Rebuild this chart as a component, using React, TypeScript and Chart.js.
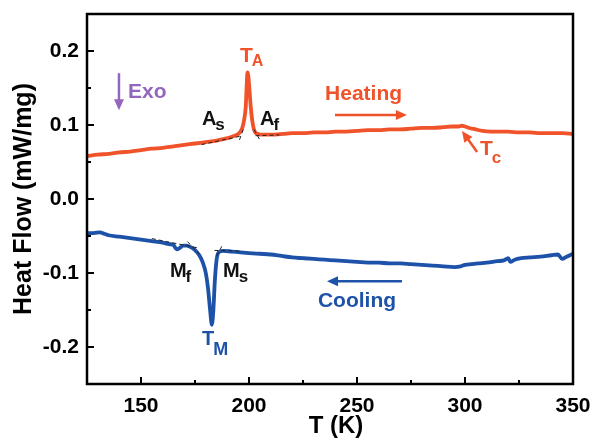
import React, { useEffect, useRef } from 'react';
import { Chart, registerables } from 'chart.js';
Chart.register(...registerables);

const FONT = '"Liberation Sans", Arial, Helvetica, sans-serif';
const RED = '#f0522a';
const BLUE = '#1d52a8';
const PURPLE = '#9467bd';

// Heating curve (T in K, heat flow in mW/mg)
const heatingT = [125,130,135,140,145,150,155,160,165,170,175,180,185,188,191,193,195,196,197,197.8,198.5,199,199.3,199.7,200.2,200.8,201.5,202.3,203.2,204.2,205.5,208,212,216,220,225,230,235,240,245,250,255,260,265,270,275,280,285,290,294,297,298.5,300,302,305,308,312,316,320,325,330,335,340,345,350];
const heatingHF = [0.058,0.060,0.061,0.063,0.064,0.066,0.068,0.069,0.071,0.073,0.075,0.077,0.079,0.081,0.083,0.085,0.088,0.091,0.097,0.108,0.125,0.158,0.171,0.166,0.148,0.125,0.106,0.094,0.089,0.088,0.087,0.087,0.087,0.088,0.089,0.089,0.090,0.090,0.091,0.091,0.092,0.093,0.093,0.094,0.094,0.095,0.096,0.096,0.097,0.098,0.098,0.099,0.098,0.096,0.094,0.092,0.091,0.091,0.091,0.090,0.090,0.089,0.089,0.089,0.088];

// Cooling curve
const coolingT = [125,128,131,133,135,140,145,150,155,160,163,165,166.5,168,169.5,171,173,175,177,178.5,180,181,182,182.8,183.5,184.2,185,186,188,192,196,200,205,210,215,220,225,230,235,240,245,250,255,260,265,270,275,280,285,290,295,298,300,303,306,310,315,318,320,321,323,326,330,335,340,343,345,347,350];
const coolingHF = [-0.046,-0.046,-0.045,-0.047,-0.049,-0.051,-0.053,-0.055,-0.057,-0.059,-0.061,-0.062,-0.068,-0.066,-0.063,-0.063,-0.065,-0.069,-0.076,-0.085,-0.100,-0.120,-0.150,-0.170,-0.150,-0.110,-0.082,-0.072,-0.070,-0.071,-0.072,-0.073,-0.074,-0.075,-0.077,-0.079,-0.080,-0.081,-0.082,-0.083,-0.084,-0.085,-0.086,-0.086,-0.087,-0.087,-0.088,-0.089,-0.090,-0.091,-0.092,-0.091,-0.089,-0.088,-0.087,-0.086,-0.084,-0.083,-0.080,-0.085,-0.082,-0.080,-0.079,-0.078,-0.076,-0.075,-0.081,-0.078,-0.074];

// Dashed tangent construction lines: [T1, HF1, T2, HF2]
const tangentLines = [
  [178, 0.0735, 197, 0.0855],
  [195.6, 0.080, 197.6, 0.096],
  [202.3, 0.094, 205.2, 0.079],
  [203, 0.0855, 214, 0.0865],
  [155, -0.0535, 177, -0.0665],
  [171.5, -0.0575, 177, -0.0745],
  [184, -0.0695, 197, -0.0705],
  [185, -0.077, 187.6, -0.063],
];

const xTickValues = [150, 200, 250, 300, 350];
const xTickLabels = ['150', '200', '250', '300', '350'];
const yTickValues = [-0.2, -0.1, 0, 0.1, 0.2];
const yTickLabels = ['-0.2', '-0.1', '0.0', '0.1', '0.2'];
const xMinorTicks = [175, 225, 275, 325];
const yMinorTicks = [-0.15, -0.05, 0.05, 0.15];
const xTitle = 'T (K)';
const yTitle = 'Heat Flow (mW/mg)';

// Text annotations in data coordinates
const labels = [
  { main: 'T', sub: 'A', x: 195.8, y: 0.185, color: RED, size: 21, subSize: 16, subDy: 4 },
  { main: 'A', sub: 's', x: 178.2, y: 0.100, color: '#111', size: 20, subSize: 17, subDy: 5 },
  { main: 'A', sub: 'f', x: 205.1, y: 0.100, color: '#111', size: 20, subSize: 17, subDy: 5 },
  { main: 'M', sub: 'f', x: 163.4, y: -0.105, color: '#111', size: 20, subSize: 17, subDy: 5 },
  { main: 'M', sub: 's', x: 188.0, y: -0.105, color: '#111', size: 20, subSize: 17, subDy: 5 },
  { main: 'T', sub: 'M', x: 178.2, y: -0.197, color: BLUE, size: 20, subSize: 18, subDy: 10 },
  { main: 'T', sub: 'c', x: 306.9, y: 0.0595, color: RED, size: 21, subSize: 17, subDy: 8 },
  { main: 'Exo', sub: '', x: 144.0, y: 0.1365, color: PURPLE, size: 21, subSize: 0, subDy: 0 },
  { main: 'Heating', sub: '', x: 235.2, y: 0.134, color: RED, size: 21, subSize: 0, subDy: 0 },
  { main: 'Cooling', sub: '', x: 231.9, y: -0.146, color: BLUE, size: 21, subSize: 0, subDy: 0 },
];

// Arrows in data coordinates: from (x1,y1) to head at (x2,y2)
const arrows = [
  { x1: 139.8, y1: 0.170, x2: 139.8, y2: 0.120, color: PURPLE },
  { x1: 239.8, y1: 0.1135, x2: 273.1, y2: 0.1135, color: RED },
  { x1: 305.6, y1: 0.0635, x2: 298.6, y2: 0.092, color: RED },
  { x1: 270.8, y1: -0.111, x2: 236.1, y2: -0.111, color: BLUE },
];

const decorPlugin = {
  id: 'decor',
  afterDraw(chart: any) {
    const { ctx, chartArea: a } = chart;
    const xs = chart.scales.x;
    const ys = chart.scales.y;
    ctx.save();
    ctx.strokeStyle = '#000';
    ctx.lineWidth = 2.5;
    ctx.strokeRect(a.left, a.top, a.right - a.left, a.bottom - a.top);
    const seg = (x1: number, y1: number, x2: number, y2: number) => {
      ctx.beginPath();
      ctx.moveTo(x1, y1);
      ctx.lineTo(x2, y2);
      ctx.stroke();
    };
    ctx.lineWidth = 2;
    xTickValues.forEach((v) => { const p = xs.getPixelForValue(v); seg(p, a.bottom, p, a.bottom - 7); });
    xMinorTicks.forEach((v) => { const p = xs.getPixelForValue(v); seg(p, a.bottom, p, a.bottom - 4); });
    yTickValues.forEach((v) => { const p = ys.getPixelForValue(v); seg(a.left, p, a.left + 7, p); });
    yMinorTicks.forEach((v) => { const p = ys.getPixelForValue(v); seg(a.left, p, a.left + 4, p); });

    arrows.forEach((ar) => {
      const x1 = xs.getPixelForValue(ar.x1), y1 = ys.getPixelForValue(ar.y1);
      const x2 = xs.getPixelForValue(ar.x2), y2 = ys.getPixelForValue(ar.y2);
      const ang = Math.atan2(y2 - y1, x2 - x1);
      const hl = 11, hw = 5;
      ctx.strokeStyle = ar.color;
      ctx.fillStyle = ar.color;
      ctx.lineWidth = 2.5;
      seg(x1, y1, x2 - Math.cos(ang) * hl * 0.8, y2 - Math.sin(ang) * hl * 0.8);
      ctx.beginPath();
      ctx.moveTo(x2, y2);
      ctx.lineTo(x2 - Math.cos(ang) * hl - Math.sin(ang) * hw, y2 - Math.sin(ang) * hl + Math.cos(ang) * hw);
      ctx.lineTo(x2 - Math.cos(ang) * hl + Math.sin(ang) * hw, y2 - Math.sin(ang) * hl - Math.cos(ang) * hw);
      ctx.closePath();
      ctx.fill();
    });

    ctx.textBaseline = 'alphabetic';
    ctx.textAlign = 'left';
    labels.forEach((l) => {
      const px = xs.getPixelForValue(l.x), py = ys.getPixelForValue(l.y);
      ctx.fillStyle = l.color;
      ctx.font = `bold ${l.size}px ${FONT}`;
      ctx.fillText(l.main, px, py);
      if (l.sub) {
        const w = ctx.measureText(l.main).width;
        ctx.font = `bold ${l.subSize}px ${FONT}`;
        ctx.fillText(l.sub, px + w - 1, py + l.subDy);
      }
    });

    // x axis title, centred slightly right of the plot centre as in the figure
    ctx.fillStyle = '#000';
    ctx.font = `bold 24px ${FONT}`;
    ctx.textAlign = 'center';
    ctx.textBaseline = 'alphabetic';
    ctx.fillText(xTitle, (a.left + a.right) / 2 + 6, chart.height - 11);
    ctx.restore();
  },
};

const zeroPad = (s: any) => {
  s.paddingTop = 0;
  s.paddingBottom = 0;
  s.paddingLeft = 0;
  s.paddingRight = 0;
};

export default function App() {
  const ref = useRef<HTMLCanvasElement | null>(null);
  useEffect(() => {
    if (!ref.current) return;
    const heating = heatingT.map((t, i) => ({ x: t, y: heatingHF[i] }));
    const cooling = coolingT.map((t, i) => ({ x: t, y: coolingHF[i] }));
    const tangentSets = tangentLines.map((l) => ({
      data: [{ x: l[0], y: l[1] }, { x: l[2], y: l[3] }],
      borderColor: '#222',
      borderWidth: 1,
      borderDash: [4, 3],
      pointRadius: 0,
      fill: false,
    }));
    const chart = new Chart(ref.current, {
      type: 'line',
      data: {
        datasets: [
          ...tangentSets,
          { data: heating, borderColor: RED, borderWidth: 3.8, pointRadius: 0, fill: false, cubicInterpolationMode: 'monotone' },
          { data: cooling, borderColor: BLUE, borderWidth: 3.8, pointRadius: 0, fill: false, cubicInterpolationMode: 'monotone' },
        ] as any,
      },
      options: {
        responsive: false,
        animation: false,
        parsing: false as any,
        layout: { padding: { top: 14, right: 19, left: 0, bottom: 0 } },
        plugins: { legend: { display: false }, tooltip: { enabled: false } },
        scales: {
          x: {
            type: 'linear',
            min: 125,
            max: 350,
            grid: { display: false, drawTicks: false },
            border: { display: false },
            ticks: {
              color: '#000',
              font: { family: FONT, size: 21, weight: 'bold' },
              padding: 10,
              maxRotation: 0,
              callback: (v: any) => {
                const i = xTickValues.indexOf(Number(v));
                return i >= 0 ? xTickLabels[i] : '';
              },
            },
            afterBuildTicks: (s: any) => { s.ticks = xTickValues.map((v) => ({ value: v })); },
            afterFit: (s: any) => { s.height = 60; zeroPad(s); },
            title: { display: false },
          },
          y: {
            type: 'linear',
            min: -0.25,
            max: 0.25,
            grid: { display: false, drawTicks: false },
            border: { display: false },
            ticks: {
              color: '#000',
              font: { family: FONT, size: 21, weight: 'bold' },
              padding: 8,
              callback: (v: any) => {
                const i = yTickValues.findIndex((t) => Math.abs(t - Number(v)) < 1e-9);
                return i >= 0 ? yTickLabels[i] : '';
              },
            },
            afterBuildTicks: (s: any) => { s.ticks = yTickValues.map((v) => ({ value: v })); },
            afterFit: (s: any) => { s.width = 87; zeroPad(s); },
            title: {
              display: true,
              text: yTitle,
              color: '#000',
              font: { family: FONT, size: 25, weight: 'bold' },
              padding: { top: 9, bottom: 0 },
            },
          },
        },
      } as any,
      plugins: [decorPlugin],
    });
    return () => chart.destroy();
  }, []);
  return (
    <div style={{ position: 'absolute', left: 0, top: 0, width: 592, height: 444, background: '#fff' }}>
      <canvas ref={ref} width={592} height={444} style={{ width: 592, height: 444, display: 'block' }} />
    </div>
  );
}
